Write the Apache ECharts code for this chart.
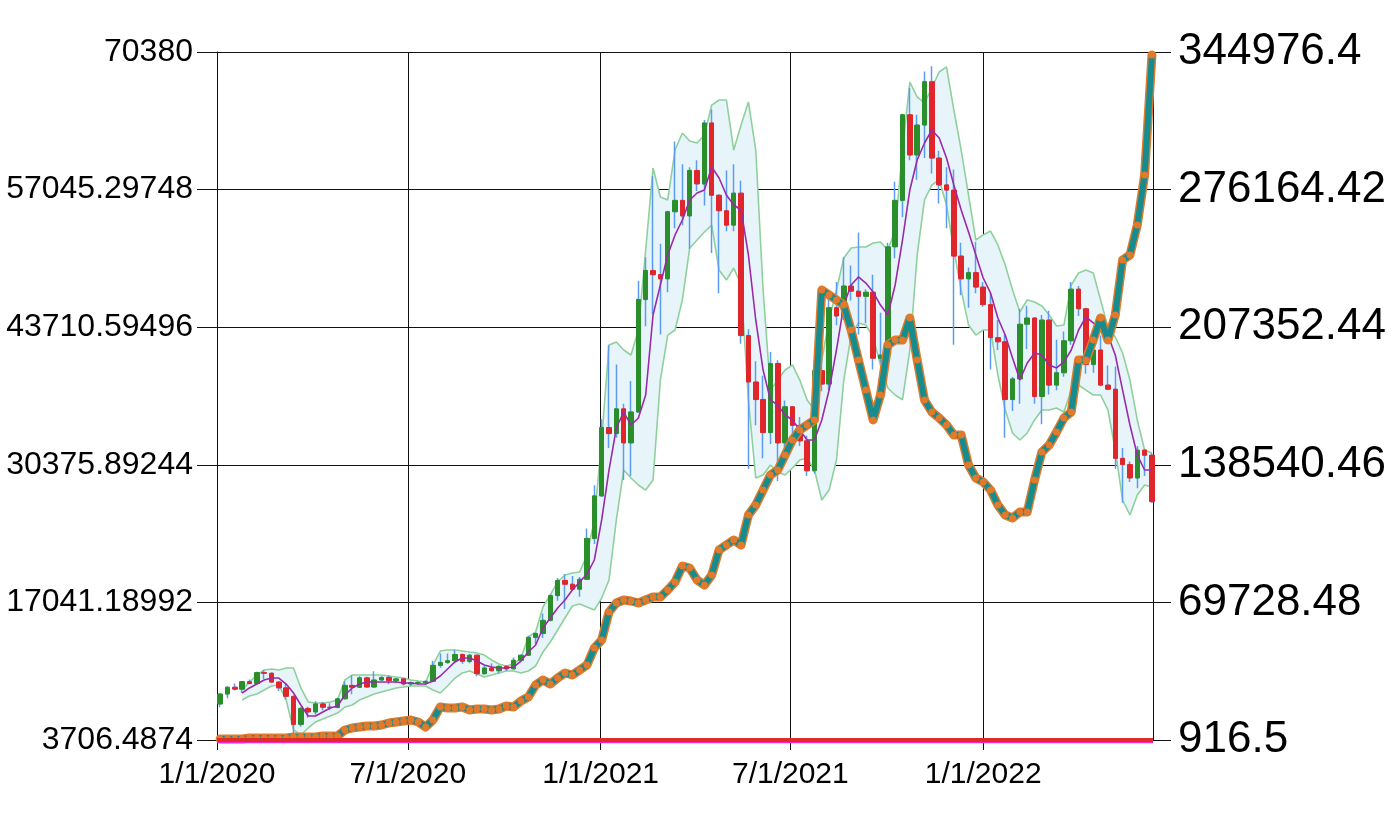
<!DOCTYPE html>
<html><head><meta charset="utf-8">
<script src="https://cdn.jsdelivr.net/npm/echarts@6/dist/echarts.min.js"></script>
<style>html,body{margin:0;padding:0;background:#fff}#c{width:1396px;height:816px}</style>
</head><body><div id="c"></div>
<script>
// x positions are day numbers counted from 1/1/2020
const xTickDays = [0, 182, 366, 547, 731];
const xTickLabels = ['1/1/2020', '7/1/2020', '1/1/2021', '7/1/2021', '1/1/2022'];
const lastDay = 893;
const leftTickLabels = ['3706.4874', '17041.18992', '30375.89244', '43710.59496', '57045.29748', '70380'];
const rightTickLabels = ['916.5', '69728.48', '138540.46', '207352.44', '276164.42', '344976.4'];
const leftMin = 3706.4874, leftMax = 70380, leftStep = 13334.70252;
const rightMin = 916.5, rightMax = 344976.4, rightStep = 68811.98;

// weekly price candles (one per 7 days, starting 1/1/2020)
const open = [7200,8160,8820,8630,9360,9180,10240,10170,9320,8760,
7940,5220,6760,6430,7200,6880,6860,7700,9000,8820,
9730,8840,9520,9770,9460,9630,9140,9250,9260,9390,
10940,11220,11390,11990,11330,11920,10130,10680,10420,10840,
10600,11430,11920,13650,14030,15300,17700,19170,18800,18320,
19280,23240,27360,33990,33400,35800,32500,35500,46400,49200,
48800,48400,54900,56000,54500,58900,57600,63500,56500,55000,
53600,56700,42900,38400,36700,33500,40200,32500,36000,34200,
32700,29800,39500,38200,45600,44800,47700,47200,46700,47100,
40700,41000,51500,56000,64300,60400,63300,67500,60100,57500,
57000,50600,48400,49000,47600,45900,42700,42300,36700,38700,
44000,44600,37000,44400,38100,39300,42400,47400,45500,40100,
41500,38100,37700,31000,30400,29100,31800,31300];
const close = [8160,8820,8630,9360,9180,10240,10170,9320,8760,7940,
5220,6760,6430,7200,6880,6860,7700,9000,8820,9730,
8840,9520,9770,9460,9630,9140,9250,9260,9390,10940,
11220,11390,11990,11330,11920,10130,10680,10420,10840,10600,
11430,11920,13650,14030,15300,17700,19170,18800,18320,19280,
23240,27360,33990,33400,35800,32500,35500,46400,49200,48800,
48400,54900,56000,54500,58900,57600,63500,56500,55000,53600,
56700,42900,38400,36700,33500,40200,32500,36000,34200,32700,
29800,39500,38200,45600,44800,47700,47200,46700,47100,40700,
41000,51500,56000,64300,60400,63300,67500,60100,57500,57000,
50600,48400,49000,47600,45900,42700,42300,36700,38700,44000,
44600,37000,44400,38100,39300,42400,47400,45500,40100,41500,
38100,37700,31000,30400,29100,31800,31300,26800];
const low = [6870,7760,8500,8270,9150,9160,9630,9310,8450,7630,
3860,5000,5860,6160,6580,6600,6840,7700,8130,8800,
8820,8800,9440,9100,9210,8980,8930,9120,9070,9300,
10700,11100,11200,11100,11150,9890,10070,10360,10150,10400,
10560,11250,11900,13000,13600,15200,17200,16400,18200,17600,
19250,22700,27350,32000,33000,28900,29300,35400,43800,45000,
43000,47100,53300,53600,51300,56900,55500,50900,47000,53000,
53000,42100,30000,34200,31000,32400,28800,31300,32700,32200,
29300,29500,37500,37600,43900,44400,46300,43000,44100,39600,
40300,40800,50400,54400,59900,58000,60100,58600,55700,53300,
42000,46800,45600,47000,45700,39600,41500,33000,35600,36300,
41600,36300,34300,37200,37600,38900,42000,44800,39200,39300,
38000,37600,30000,26700,28700,28100,29300,26700];
const high = [8200,8880,9190,9400,9560,10300,10500,10270,9350,9170,
7970,6900,6920,7460,7420,7270,7800,9400,10000,9880,
9840,10380,9880,9990,9660,9680,9370,9450,9430,11390,
12090,12080,12460,12100,12050,11950,10900,11150,10950,10950,
11700,12000,13800,14100,15960,17800,19400,19800,19600,19500,
24200,28400,34800,41950,40100,36300,38500,48200,50500,58350,
51800,55000,61700,59500,59200,59900,63800,64800,56600,58900,
59500,57900,43500,40400,39000,41300,40500,36600,36000,35000,
33200,40500,42600,46600,48100,50500,49700,52900,47400,48800,
45100,51900,57800,64400,66900,64300,68500,69000,60800,59200,
59000,51900,49500,52000,48100,47000,44400,43000,38900,45500,
45800,44600,44900,45300,42500,43300,48100,47700,45600,41500,
42900,40000,39900,32000,30700,32200,31800,31500];

// bands and moving average, starting at the 4th week
const bandStartWeek = 3;
const bbUpper = [8550,9330,10000,10490,10590,10490,10680,10680,8750,7390,
7290,7290,7390,7580,9520,10000,10000,10000,10000,10000,
9910,9810,9710,9520,9420,9330,10970,12330,12430,12430,
12330,12230,12140,11940,11460,11070,10880,11070,11650,13690,
14170,16600,17760,19020,19700,19890,19990,21630,25030,32780,
41990,42280,41500,41020,43440,51190,59140,56330,56040,60880,
62530,61750,61560,62340,65240,65730,65730,60880,63310,65540,
60880,47320,37620,38590,39560,40050,38590,36660,35690,40530,
44410,47320,50420,51390,51480,51480,51870,51970,51190,53130,
60880,67470,66020,65440,66890,68440,68930,64760,60880,56520,
52160,52650,53030,51680,49740,47320,45180,46350,46150,45760,
44890,43830,43920,47800,48960,49250,48960,46350,43730,42760,
41210,38590,34720,31810,31520];
const bbMid = [8260,8750,9130,9520,9710,9710,9130,8260,7100,6030,
6030,6420,6810,7000,8070,8750,9130,9330,9330,9330,
9330,9330,9230,9230,9130,9130,9420,9910,10590,11270,
11650,11650,11360,10970,10780,10680,10680,10780,11360,12230,
12910,14560,15530,16500,17270,18240,19020,19790,21150,25030,
29870,33940,35490,34230,34910,37140,44890,47800,50710,52650,
54100,56040,56720,57010,59240,58170,56520,55550,55070,50710,
44410,39560,36660,36170,35200,34720,33750,32780,32780,34720,
37620,41500,45860,47800,48580,47990,47120,45860,44890,47800,
52160,57010,59910,61560,62820,62050,60110,57490,55070,52940,
50710,48480,47030,44600,42950,40730,38590,40240,41210,41020,
40050,39760,40340,41500,43440,44700,44120,43630,42950,41020,
37620,34230,31330,29870,29870];
const bbLower = [7580,7970,8160,8550,8940,9040,7580,4680,4190,4870,
5450,5740,6030,6320,6900,7100,7580,7870,8160,8360,
8550,8750,8840,8940,8940,8940,8550,8260,8940,9710,
10200,10390,10100,9810,10000,10200,10390,10390,10200,10390,
10880,12230,13200,14370,15530,16690,16890,16600,16300,17470,
19210,25030,29870,29100,28420,27930,28900,38590,42950,43440,
46350,51390,52160,52940,53610,49250,48280,49450,47800,36660,
29100,29390,30360,29680,29390,30070,30840,31030,29870,26960,
27930,30840,38590,42950,44120,43920,42760,40050,37820,37140,
36660,41500,50710,56040,57490,57980,55550,51190,47320,43920,
42950,43440,43440,39080,35690,33460,32780,33460,34720,35690,
35690,35880,35490,37620,38110,37620,37140,37140,35690,31810,
26960,25510,27450,28420,28220];

// right-axis series (weekly)
const equity = [1420,1420,1420,1420,1920,1920,1920,1920,1920,1920,
2420,2420,2420,2420,2920,2920,2920,5920,6920,7420,
7920,7920,8420,9420,9920,10420,10920,9920,7420,10920,
17420,16920,16920,17420,15920,16420,16420,15920,16420,17920,
17420,20420,22420,28420,30920,28920,31920,34420,33420,35920,
38420,46930,50930,64930,69430,70930,70430,69430,70930,72430,
72430,75930,79930,87930,86930,80930,78430,83430,95940,98440,
100940,98440,113440,118440,125940,133440,135940,143450,150950,155950,
158450,160950,225960,223460,220960,218460,205960,190960,175950,160950,
173450,198460,200960,200960,211960,190960,170950,164950,161950,158450,
153450,153450,138440,131940,129940,125940,118440,113440,111940,114940,
114940,130940,144950,148450,154950,161950,164950,190960,190960,200960,
211960,200960,213460,240970,243470,258470,283470,343490];
const redLevel = [916.5, 916.5];
const magentaLevel = [0, 0];

const weekDays = open.map((_, k) => 7 * k + 3);
const bandDays = weekDays.slice(bandStartWeek);

const wickData = weekDays.map((d, i) => [d, open[i], close[i], low[i], high[i]]);
const bodyData = weekDays.map((d, i) => [d, open[i], close[i], Math.min(open[i], close[i]), Math.max(open[i], close[i])]);
const pairs = (days, vals) => days.map((d, i) => [d, vals[i]]);

const chart = echarts.init(document.getElementById('c'));
const font = 'Liberation Sans, Arial, sans-serif';
const black = '#111';
chart.setOption({
  animation: false,
  textStyle: { fontFamily: font },
  grid: { left: 217, right: 243, top: 52, bottom: 76, containLabel: false },
  xAxis: {
    type: 'value', min: 0, max: lastDay,
    axisLine: { show: true, lineStyle: { color: black, width: 1 } },
    axisTick: { show: true, length: 10, customValues: xTickDays, lineStyle: { color: black } },
    axisLabel: {
      customValues: xTickDays, fontSize: 30, color: '#000', margin: 20, fontFamily: font,
      formatter: v => { const i = xTickDays.indexOf(Math.round(v)); return i >= 0 ? xTickLabels[i] : ''; }
    },
    splitLine: { show: true, lineStyle: { color: black, width: 1 } }
  },
  yAxis: [{
    type: 'value', position: 'left', min: leftMin, max: leftMax, interval: leftStep,
    axisLine: { show: true, lineStyle: { color: black } },
    axisTick: { show: true, length: 20, lineStyle: { color: black } },
    axisLabel: {
      fontSize: 32, color: '#000', margin: 24, fontFamily: font,
      formatter: v => leftTickLabels[Math.round((v - leftMin) / leftStep)]
    },
    splitLine: { show: true, lineStyle: { color: black, width: 1 } }
  }, {
    type: 'value', position: 'right', min: rightMin, max: rightMax, interval: rightStep,
    axisLine: { show: true, lineStyle: { color: black } },
    axisTick: { show: true, length: 18, lineStyle: { color: black } },
    axisLabel: {
      fontSize: 44, color: '#000', margin: 25, fontFamily: font,
      formatter: v => rightTickLabels[Math.round((v - rightMin) / rightStep)]
    },
    splitLine: { show: false }
  }],
  series: [
    {
      type: 'custom', name: 'bandFill', yAxisIndex: 0, z: 1, silent: true,
      data: bandDays.map((d, i) => [d, bbUpper[i], bbLower[i]]),
      encode: { x: 0, y: [1, 2] },
      renderItem: (params, api) => {
        if (params.dataIndex !== 0) return null;
        const pts = [];
        for (let i = 0; i < bandDays.length; i++) pts.push(api.coord([bandDays[i], bbUpper[i]]));
        for (let i = bandDays.length - 1; i >= 0; i--) pts.push(api.coord([bandDays[i], bbLower[i]]));
        return { type: 'polygon', shape: { points: pts }, style: { fill: '#e7f5fb' } };
      }
    },
    { type: 'line', name: 'upper', z: 2, data: pairs(bandDays, bbUpper), symbol: 'none', lineStyle: { color: '#8fd09c', width: 1.6 } },
    { type: 'line', name: 'lower', z: 2, data: pairs(bandDays, bbLower), symbol: 'none', lineStyle: { color: '#8fd09c', width: 1.6 } },
    {
      type: 'candlestick', name: 'wick', z: 3, data: wickData, barWidth: 1.5,
      encode: { x: 0, y: [1, 2, 3, 4] },
      itemStyle: { color: '#5b9bf0', color0: '#5b9bf0', borderColor: '#5b9bf0', borderColor0: '#5b9bf0', borderWidth: 1.5 }
    },
    {
      type: 'candlestick', name: 'body', z: 4, data: bodyData, barWidth: 5,
      encode: { x: 0, y: [1, 2, 3, 4] },
      itemStyle: { color: '#2a8f2a', color0: '#e0262a', borderColor: '#2a8f2a', borderColor0: '#e0262a', borderWidth: 1 }
    },
    { type: 'line', name: 'ma', z: 5, data: pairs(bandDays, bbMid), symbol: 'none', lineStyle: { color: '#9a2aa8', width: 1.6 } },
    {
      type: 'line', name: 'equityEdge', yAxisIndex: 1, z: 6, data: pairs(weekDays, equity),
      symbol: 'none', lineStyle: { color: '#e07a2c', width: 9, cap: 'round', join: 'round' }
    },
    {
      type: 'line', name: 'equity', yAxisIndex: 1, z: 7, data: pairs(weekDays, equity),
      symbol: 'circle', symbolSize: 7, showAllSymbol: true,
      itemStyle: { color: '#e07a2c' },
      lineStyle: { color: '#168c8e', width: 6, join: 'round' }
    },
    {
      type: 'line', name: 'magenta', yAxisIndex: 1, z: 8, clip: false, data: pairs([0, lastDay], magentaLevel),
      symbol: 'none', lineStyle: { color: '#ee2ad0', width: 3 }
    },
    {
      type: 'line', name: 'red', yAxisIndex: 1, z: 9, clip: false, data: pairs([0, lastDay], redLevel),
      symbol: 'none', lineStyle: { color: '#e22a2a', width: 4 }
    }
  ]
});
</script>
</body></html>
